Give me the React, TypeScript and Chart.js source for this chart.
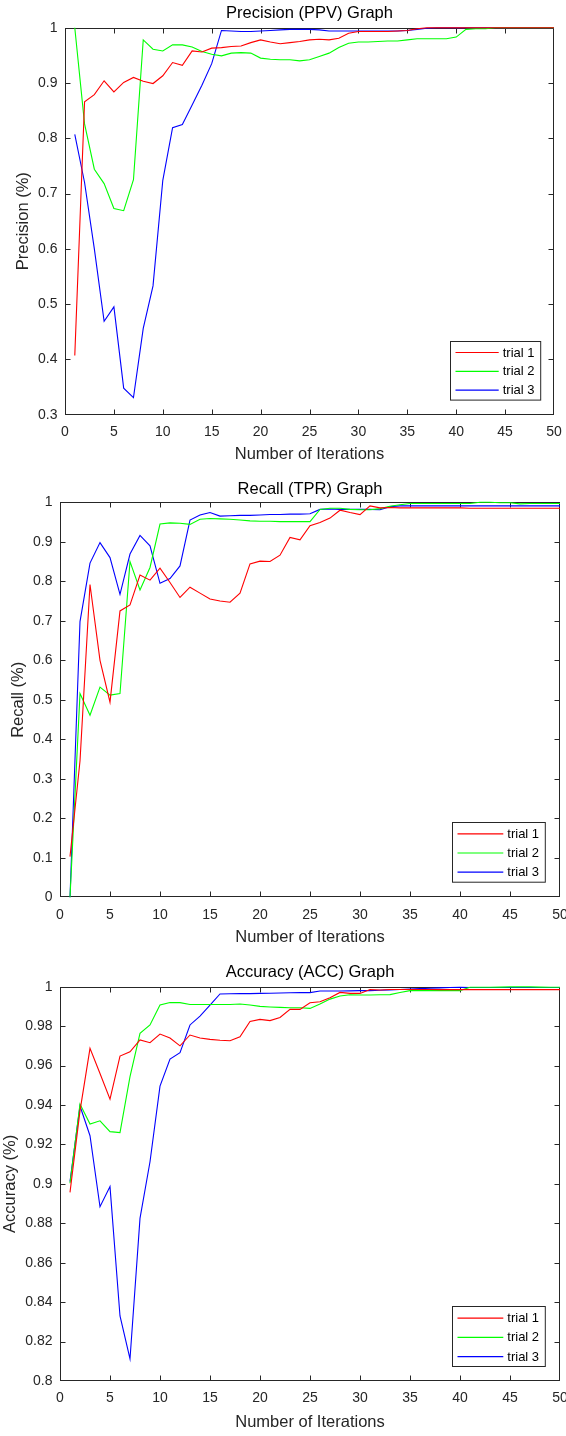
import React, { useEffect, useRef } from "react";
import { Chart, registerables } from "chart.js";

Chart.register(...registerables);

// ---------- data ----------
const iterations = [
  1, 2, 3, 4, 5, 6, 7, 8, 9, 10,
  11, 12, 13, 14, 15, 16, 17, 18, 19, 20,
  21, 22, 23, 24, 25, 26, 27, 28, 29, 30,
  31, 32, 33, 34, 35, 36, 37, 38, 39, 40,
  41, 42, 43, 44, 45, 46, 47, 48, 49, 50,
];

const trialLabels = ["trial 1", "trial 2", "trial 3"];
const trialColors = ["#ff0000", "#00ff00", "#0000ff"];

const xTickValues = [0, 5, 10, 15, 20, 25, 30, 35, 40, 45, 50];

const precisionTrial1 = [
  0.407, 0.866, 0.879, 0.904, 0.884, 0.901, 0.91, 0.903, 0.899, 0.913,
  0.937, 0.932, 0.958, 0.956, 0.963, 0.964, 0.966, 0.967, 0.973, 0.978,
  0.974, 0.971, 0.973, 0.975, 0.978, 0.979, 0.978, 0.981, 0.99, 0.993,
  0.993, 0.993, 0.993, 0.994, 0.995, 0.998, 1.0, 1.0, 1.0, 1.0,
  1.0, 1.0, 1.0, 1.0, 1.0, 1.0, 1.0, 1.0, 1.0, 1.0,
];
const precisionTrial2 = [
  1.0, 0.826, 0.744, 0.718, 0.673, 0.669, 0.725, 0.978, 0.961, 0.958,
  0.969, 0.969, 0.965, 0.957, 0.952, 0.949, 0.954, 0.955, 0.954, 0.945,
  0.943, 0.942, 0.942, 0.94, 0.942, 0.948, 0.954, 0.964, 0.972, 0.974,
  0.974, 0.975, 0.976, 0.976, 0.978, 0.98, 0.98, 0.98, 0.98, 0.983,
  0.997, 0.998, 0.998, 1.0, 1.0, 1.0, 1.0, 1.0, 1.0, 1.0,
];
const precisionTrial3 = [
  0.807, 0.72, 0.6, 0.469, 0.495, 0.348, 0.331, 0.456, 0.533, 0.724,
  0.819, 0.825, 0.86, 0.896, 0.935, 0.995, 0.994, 0.993, 0.993, 0.994,
  0.995, 0.996, 0.997, 0.997, 0.997, 0.996, 0.994, 0.994, 0.994, 0.994,
  0.994, 0.994, 0.994, 0.994, 0.995, 0.997, 0.999, 1.0, 1.0, 1.0,
  1.0, 1.0, 1.0, 1.0, 1.0, 1.0, 1.0, 1.0, 1.0, 1.0,
];

const recallTrial1 = [
  0.103, 0.345, 0.792, 0.6, 0.494, 0.725, 0.74, 0.816, 0.803, 0.833,
  0.797, 0.759, 0.785, 0.77, 0.755, 0.75, 0.747, 0.77, 0.844, 0.851,
  0.85, 0.866, 0.911, 0.905, 0.941, 0.949, 0.96, 0.98, 0.974, 0.969,
  0.991, 0.986, 0.987, 0.986, 0.986, 0.986, 0.986, 0.986, 0.986, 0.986,
  0.985, 0.985, 0.985, 0.985, 0.985, 0.985, 0.985, 0.985, 0.985, 0.985,
];
const recallTrial2 = [
  0.0, 0.516, 0.461, 0.532, 0.512, 0.516, 0.85, 0.778, 0.835, 0.945,
  0.948, 0.947, 0.944, 0.957, 0.959, 0.958, 0.957, 0.955, 0.953, 0.952,
  0.952, 0.951, 0.951, 0.951, 0.951, 0.982, 0.985, 0.985, 0.982, 0.981,
  0.981, 0.984, 0.99, 0.994, 0.997, 0.997, 0.997, 0.997, 0.997, 0.997,
  0.997, 1.0, 1.0, 0.999, 0.999, 0.996, 0.997, 0.997, 0.997, 0.997,
];
const recallTrial3 = [
  0.0, 0.698, 0.846, 0.898, 0.86, 0.767, 0.869, 0.916, 0.89, 0.795,
  0.807, 0.839, 0.955, 0.968, 0.974, 0.965, 0.966, 0.967, 0.967, 0.968,
  0.969, 0.969, 0.97, 0.97, 0.971, 0.982, 0.983, 0.982, 0.982, 0.982,
  0.982, 0.981, 0.989, 0.991, 0.991, 0.991, 0.991, 0.991, 0.991, 0.991,
  0.991, 0.991, 0.991, 0.991, 0.991, 0.991, 0.991, 0.991, 0.991, 0.991,
];

const accuracyTrial1 = [
  0.8957, 0.937, 0.9687, 0.956, 0.943, 0.9648, 0.967, 0.973, 0.9716, 0.976,
  0.974, 0.97, 0.9755, 0.974, 0.9733, 0.9728, 0.9726, 0.9746, 0.9824, 0.9834,
  0.9828, 0.9844, 0.9885, 0.9885, 0.9919, 0.9924, 0.9944, 0.9971, 0.9966, 0.9966,
  0.9986, 0.9983, 0.9986, 0.9986, 0.9986, 0.9986, 0.9986, 0.9985, 0.9985, 0.9985,
  0.9985, 0.9985, 0.9985, 0.9985, 0.9985, 0.9985, 0.9985, 0.9985, 0.9985, 0.9985,
];
const accuracyTrial2 = [
  0.9003, 0.9405, 0.9303, 0.932, 0.9265, 0.926, 0.9544, 0.9763, 0.9806, 0.9907,
  0.992, 0.9919, 0.991, 0.991, 0.991, 0.991, 0.991, 0.9912, 0.9907, 0.99,
  0.9897, 0.9895, 0.9893, 0.9893, 0.989, 0.9912, 0.9937, 0.9953, 0.9959, 0.9958,
  0.9958, 0.9959, 0.996, 0.9971, 0.998, 0.998, 0.998, 0.998, 0.998, 0.998,
  0.9997, 0.9997, 0.9997, 0.9998, 0.9999, 1.0, 0.9999, 0.9998, 0.9997, 0.9997,
];
const accuracyTrial3 = [
  0.9011, 0.9395, 0.9244, 0.8884, 0.8986, 0.833, 0.8112, 0.8825, 0.9112, 0.9496,
  0.9633, 0.9665, 0.9806, 0.9851, 0.9907, 0.9963, 0.9964, 0.9965, 0.9965, 0.9966,
  0.9967, 0.9968, 0.9969, 0.997, 0.997, 0.9978, 0.9978, 0.9978, 0.9979, 0.998,
  0.998, 0.9982, 0.9984, 0.9986, 0.9988, 0.999, 0.9992, 0.9994, 0.9996, 0.9997,
  0.9996, 0.9996, 0.9996, 0.9996, 0.9996, 0.9996, 0.9996, 0.9996, 0.9996, 0.9996,
];

// ---------- layout ----------
const FONT = "'Liberation Sans', Arial, Helvetica, sans-serif";
const CANVAS_W = 600;
const TITLE_SIZE = 16.5;
const TICK_SIZE = 14;
const LEGEND_SIZE = 13;
const AXIS_COLOR = "#262626";

type Panel = {
  title: string;
  yTitle: string;
  yMin: number;
  yMax: number;
  yStep: number;
  series: number[][];
  top: number;
  height: number;
  left: number;
  right: number;
  areaTop: number;
  areaBottom: number;
  titleY: number;
  xTickY: number;
  xTitleY: number;
  yTitleX: number;
  legendRight: number;
  legendBottom: number;
  legendW: number;
  legendH: number;
  legendFirst: number;
  legendStep: number;
};

const panels: Panel[] = [
  {
    title: "Precision (PPV) Graph",
    yTitle: "Precision (%)",
    yMin: 0.3, yMax: 1, yStep: 0.1,
    series: [precisionTrial1, precisionTrial2, precisionTrial3],
    top: 0, height: 466, left: 65, right: 554, areaTop: 27.7, areaBottom: 414.7,
    titleY: 13, xTickY: 431.7, xTitleY: 454, yTitleX: 23.5,
    legendRight: 14.3, legendBottom: 15.4, legendW: 90.2, legendH: 58.6,
    legendFirst: 11, legendStep: 18.8,
  },
  {
    title: "Recall (TPR) Graph",
    yTitle: "Recall (%)",
    yMin: 0, yMax: 1, yStep: 0.1,
    series: [recallTrial1, recallTrial2, recallTrial3],
    top: 476, height: 474, left: 60, right: 560, areaTop: 502.3, areaBottom: 897.3,
    titleY: 489, xTickY: 915, xTitleY: 937.7, yTitleX: 18,
    legendRight: 14.9, legendBottom: 15.6, legendW: 92.8, legendH: 59.7,
    legendFirst: 11.3, legendStep: 19.2,
  },
  {
    title: "Accuracy (ACC) Graph",
    yTitle: "Accuracy (%)",
    yMin: 0.8, yMax: 1, yStep: 0.02,
    series: [accuracyTrial1, accuracyTrial2, accuracyTrial3],
    top: 960, height: 475, left: 60, right: 560, areaTop: 986.7, areaBottom: 1381,
    titleY: 972.5, xTickY: 1398, xTitleY: 1422.7, yTitleX: 10.5,
    legendRight: 14.9, legendBottom: 15, legendW: 92.8, legendH: 60,
    legendFirst: 11.7, legendStep: 19.2,
  },
];

function fmt(v: number): string {
  return String(Number(Number(v).toFixed(3)));
}

function ChartPanel({ p }: { p: Panel }) {
  const ref = useRef<HTMLCanvasElement | null>(null);

  useEffect(() => {
    if (!ref.current) return;
    const tlh = TITLE_SIZE * 1.2;
    const klh = TICK_SIZE * 1.2;
    const titlePadTop = p.titleY - p.top - tlh / 2;
    const titlePadBottom = p.areaTop - p.top - titlePadTop - tlh;
    const xScaleH = p.top + p.height - p.areaBottom;

    const framePlugin = {
      id: "matlabFrame",
      beforeDatasetsDraw(chart: any) {
        const { ctx, chartArea: a, scales } = chart;
        ctx.save();
        ctx.strokeStyle = AXIS_COLOR;
        ctx.lineWidth = 1;
        const L = Math.round(a.left) + 0.5;
        const R = Math.round(a.right) - 0.5;
        const T = Math.round(a.top) + 0.5;
        const B = Math.round(a.bottom) - 0.5;
        ctx.strokeRect(L, T, R - L, B - T);
        const tl = 5;
        ctx.beginPath();
        scales.x.ticks.forEach((t: any) => {
          const px = Math.round(scales.x.getPixelForValue(t.value)) + 0.5;
          if (px <= L + 1 || px >= R - 1) return;
          ctx.moveTo(px, B);
          ctx.lineTo(px, B - tl);
          ctx.moveTo(px, T);
          ctx.lineTo(px, T + tl);
        });
        scales.y.ticks.forEach((t: any) => {
          const py = Math.round(scales.y.getPixelForValue(t.value)) + 0.5;
          if (py <= T + 1 || py >= B - 1) return;
          ctx.moveTo(L, py);
          ctx.lineTo(L + tl, py);
          ctx.moveTo(R, py);
          ctx.lineTo(R - tl, py);
        });
        ctx.stroke();
        ctx.restore();
      },
    };

    const legendPlugin = {
      id: "boxLegend",
      afterDatasetsDraw(chart: any) {
        const { ctx, chartArea: a } = chart;
        const w = p.legendW;
        const h = p.legendH;
        const x0 = Math.round(a.right - p.legendRight - w) + 0.5;
        const y0 = Math.round(a.bottom - p.legendBottom - h) + 0.5;
        ctx.save();
        ctx.fillStyle = "#ffffff";
        ctx.fillRect(x0, y0, w, h);
        ctx.strokeStyle = AXIS_COLOR;
        ctx.lineWidth = 1;
        ctx.strokeRect(x0, y0, w, h);
        ctx.font = `${LEGEND_SIZE}px ${FONT}`;
        ctx.textBaseline = "middle";
        ctx.textAlign = "left";
        chart.data.datasets.forEach((ds: any, i: number) => {
          const y = y0 + p.legendFirst + i * p.legendStep;
          ctx.strokeStyle = ds.borderColor;
          ctx.lineWidth = 1.2;
          ctx.beginPath();
          ctx.moveTo(x0 + 5, y);
          ctx.lineTo(x0 + w - 42, y);
          ctx.stroke();
          ctx.fillStyle = "#000000";
          ctx.fillText(ds.label, x0 + w - 38, y + 0.5);
        });
        ctx.restore();
      },
    };

    const chart = new Chart(ref.current, {
      type: "line",
      data: {
        datasets: p.series.map((s, i) => ({
          label: trialLabels[i],
          data: iterations.map((x, j) => ({ x, y: s[j] })),
          borderColor: trialColors[i],
          backgroundColor: trialColors[i],
          borderWidth: 1.1,
          pointRadius: 0,
          pointHoverRadius: 0,
          tension: 0,
          fill: false,
          clip: false,
        })),
      },
      options: {
        responsive: false,
        animation: false,
        devicePixelRatio: 1,
        events: [],
        layout: { padding: { left: 0, right: CANVAS_W - p.right, top: 0, bottom: 0 } },
        plugins: {
          legend: { display: false },
          tooltip: { enabled: false },
          title: {
            display: true,
            text: p.title,
            fullSize: false,
            color: "#000000",
            font: { family: FONT, size: TITLE_SIZE, weight: "normal", lineHeight: 1.2 },
            padding: { top: titlePadTop, bottom: titlePadBottom },
          },
        },
        scales: {
          x: {
            type: "linear",
            min: 0,
            max: 50,
            afterBuildTicks: (scale: any) => {
              scale.ticks = xTickValues.map((v) => ({ value: v }));
            },
            ticks: {
              autoSkip: false,
              maxRotation: 0,
              minRotation: 0,
              padding: p.xTickY - p.areaBottom - klh / 2,
              color: AXIS_COLOR,
              font: { family: FONT, size: TICK_SIZE, lineHeight: 1.2 },
              callback: (v: any) => fmt(v),
            },
            grid: { display: false, drawTicks: false },
            border: { display: false },
            title: {
              display: true,
              text: "Number of Iterations",
              color: AXIS_COLOR,
              font: { family: FONT, size: TITLE_SIZE, lineHeight: 1.2 },
              padding: { top: 0, bottom: p.top + p.height - p.xTitleY - tlh / 2 },
            },
            afterFit: (scale: any) => {
              scale.height = xScaleH;
            },
          },
          y: {
            type: "linear",
            min: p.yMin,
            max: p.yMax,
            ticks: {
              stepSize: p.yStep,
              autoSkip: false,
              padding: 7.5,
              color: AXIS_COLOR,
              font: { family: FONT, size: TICK_SIZE, lineHeight: 1.2 },
              callback: (v: any) => fmt(v),
            },
            grid: { display: false, drawTicks: false },
            border: { display: false },
            title: {
              display: true,
              text: p.yTitle,
              color: AXIS_COLOR,
              font: { family: FONT, size: TITLE_SIZE, lineHeight: 1.2 },
              padding: { top: p.yTitleX - tlh / 2, bottom: 0 },
            },
            afterFit: (scale: any) => {
              scale.width = p.left;
            },
          },
        },
      } as any,
      plugins: [framePlugin, legendPlugin],
    } as any);

    return () => chart.destroy();
  }, [p]);

  return (
    <canvas
      ref={ref}
      width={CANVAS_W}
      height={p.height}
      style={{ position: "absolute", left: 0, top: p.top, width: CANVAS_W, height: p.height, display: "block" }}
    />
  );
}

export default function App() {
  return (
    <div
      style={{
        position: "absolute",
        left: 0,
        top: 0,
        width: 566,
        height: 1436,
        overflow: "hidden",
        background: "#ffffff",
      }}
    >
      {panels.map((p, i) => (
        <ChartPanel key={i} p={p} />
      ))}
    </div>
  );
}
